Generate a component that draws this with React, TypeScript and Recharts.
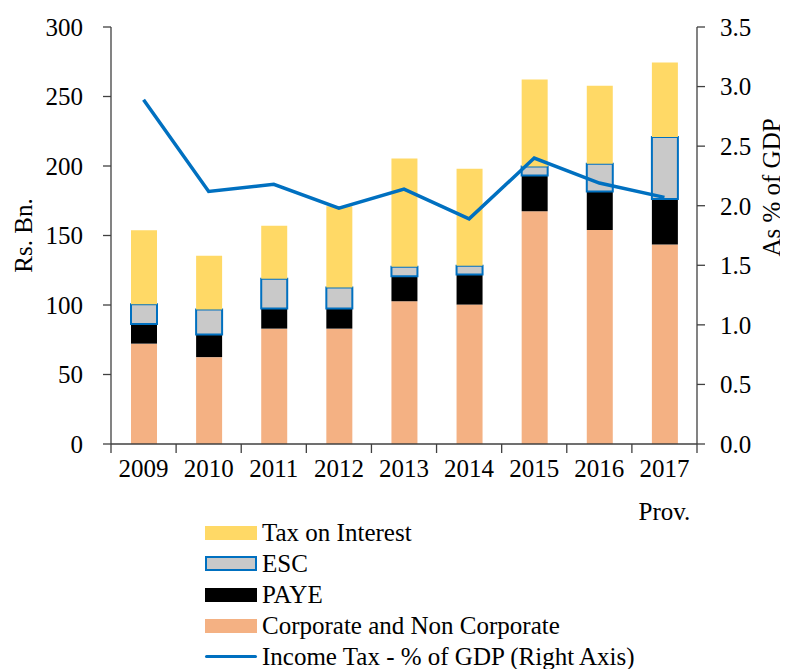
import { ComposedChart, Bar, Line, XAxis, YAxis, Legend } from 'recharts';

const years = ['2009', '2010', '2011', '2012', '2013', '2014', '2015', '2016', '2017'];
const corporate = [72.2, 62.5, 83, 83, 102.7, 100.3, 167.4, 153.9, 143.6];
const paye = [14.1, 16.2, 14.4, 14.4, 18, 21.7, 25.7, 27.7, 32.7];
const esc = [14.2, 18, 21.4, 15.2, 6.8, 6.2, 6.5, 20, 44.5];
const taxOnInterest = [53.2, 38.7, 38.2, 58.4, 77.9, 69.8, 62.6, 56.2, 53.6];
const gdpShare = [2.89, 2.12, 2.18, 1.98, 2.14, 1.89, 2.4, 2.19, 2.07];

const leftTicks = [0, 50, 100, 150, 200, 250, 300];
const rightTicks = [0, 0.5, 1, 1.5, 2, 2.5, 3, 3.5];

const FONT = '"Liberation Serif", serif';
const BLUE = '#0070C0';

const chartData = years.map((year, i) => ({
  year,
  corporate: corporate[i],
  paye: paye[i],
  esc: esc[i],
  taxOnInterest: taxOnInterest[i],
  gdp: gdpShare[i],
}));

const legendItems = [
  { label: 'Tax on Interest', type: 'rect', fill: '#FFD966' },
  { label: 'ESC', type: 'rect', fill: '#C9C9C9', stroke: BLUE },
  { label: 'PAYE', type: 'rect', fill: '#000000' },
  { label: 'Corporate and Non Corporate', type: 'rect', fill: '#F4B183' },
  { label: 'Income Tax - % of GDP (Right Axis)', type: 'line', fill: BLUE },
];

// Excel style category ticks: marks sit between the categories
const YearTick = (props: any) => {
  const { x, y, payload, index } = props;
  const half = payload.offset || 32.5;
  const isLast = index === years.length - 1;
  return (
    <g>
      <line x1={x - half} y1={y - 8} x2={x - half} y2={y + 1} stroke="#404040" strokeWidth={1.3} />
      {isLast && <line x1={x + half} y1={y - 8} x2={x + half} y2={y + 1} stroke="#404040" strokeWidth={1.3} />}
      <text x={x} y={y + 25} textAnchor="middle" fontFamily={FONT} fontSize={25} fill="#000">
        {payload.value}
      </text>
      {isLast && (
        <text x={x} y={y + 68} textAnchor="middle" fontFamily={FONT} fontSize={25} fill="#000">
          Prov.
        </text>
      )}
    </g>
  );
};

const renderLegend = () => (
  <div style={{ fontFamily: FONT, fontSize: 25, color: '#000' }}>
    {legendItems.map((item) => (
      <div key={item.label} style={{ display: 'flex', alignItems: 'center', height: 31 }}>
        {item.type === 'rect' ? (
          <div
            style={{
              width: item.stroke ? 48 : 52,
              height: item.stroke ? 11 : 14,
              background: item.fill,
              border: item.stroke ? `2px solid ${item.stroke}` : 'none',
              marginRight: 5,
            }}
          />
        ) : (
          <div style={{ width: 52, height: 3.5, background: item.fill, borderRadius: 2, marginRight: 5 }} />
        )}
        <span style={{ whiteSpace: 'nowrap', lineHeight: 1 }}>{item.label}</span>
      </div>
    ))}
  </div>
);

export default function App() {
  return (
    <ComposedChart
      width={780}
      height={661}
      data={chartData}
      margin={{ top: 19, right: 11, left: 23, bottom: 10 }}
      barCategoryGap={0}
    >
      <XAxis
        dataKey="year"
        xAxisId="x"
        tick={<YearTick />}
        tickLine={false}
        axisLine={{ stroke: '#404040', strokeWidth: 1.3 }}
        height={60}
        interval={0}
      />
      <YAxis
        yAxisId="left"
        domain={[0, 300]}
        ticks={leftTicks}
        width={80}
        tickSize={8}
        tickMargin={20}
        axisLine={{ stroke: '#404040', strokeWidth: 1.3 }}
        tickLine={{ stroke: '#404040', strokeWidth: 1.3 }}
        tick={{ fontFamily: FONT, fontSize: 25, fill: '#000' }}
        label={{
          value: 'Rs. Bn.',
          angle: -90,
          position: 'insideLeft',
          offset: -8,
          style: { fontFamily: FONT, fontSize: 25, fill: '#000', textAnchor: 'middle' },
        }}
      />
      <YAxis
        yAxisId="right"
        orientation="right"
        domain={[0, 3.5]}
        ticks={rightTicks}
        width={80}
        tickSize={8}
        tickMargin={15}
        axisLine={{ stroke: '#404040', strokeWidth: 1.3 }}
        tickLine={{ stroke: '#404040', strokeWidth: 1.3 }}
        tickFormatter={(v: number) => v.toFixed(1)}
        tick={{ fontFamily: FONT, fontSize: 25, fill: '#000' }}
        label={{
          value: 'As % of GDP',
          angle: -90,
          position: 'insideRight',
          offset: 6,
          dy: -48,
          style: { fontFamily: FONT, fontSize: 25, fill: '#000', textAnchor: 'middle' },
        }}
      />
      <Legend
        content={renderLegend}
        layout="vertical"
        verticalAlign="bottom"
        align="center"
        wrapperStyle={{ top: 509, left: 197, bottom: 'auto', width: 'auto', height: 'auto' }}
      />
      <Bar xAxisId="x" yAxisId="left" dataKey="corporate" stackId="a" barSize={26} fill="#F4B183" isAnimationActive={false} />
      <Bar xAxisId="x" yAxisId="left" dataKey="paye" stackId="a" barSize={26} fill="#000000" isAnimationActive={false} />
      <Bar
        xAxisId="x"
        yAxisId="left"
        dataKey="esc"
        stackId="a"
        barSize={26}
        fill="#C9C9C9"
        stroke={BLUE}
        strokeWidth={2}
        isAnimationActive={false}
      />
      <Bar xAxisId="x" yAxisId="left" dataKey="taxOnInterest" stackId="a" barSize={26} fill="#FFD966" isAnimationActive={false} />
      <Line
        xAxisId="x"
        yAxisId="right"
        dataKey="gdp"
        type="linear"
        stroke={BLUE}
        strokeWidth={3.5}
        dot={false}
        activeDot={false}
        isAnimationActive={false}
      />
    </ComposedChart>
  );
}
